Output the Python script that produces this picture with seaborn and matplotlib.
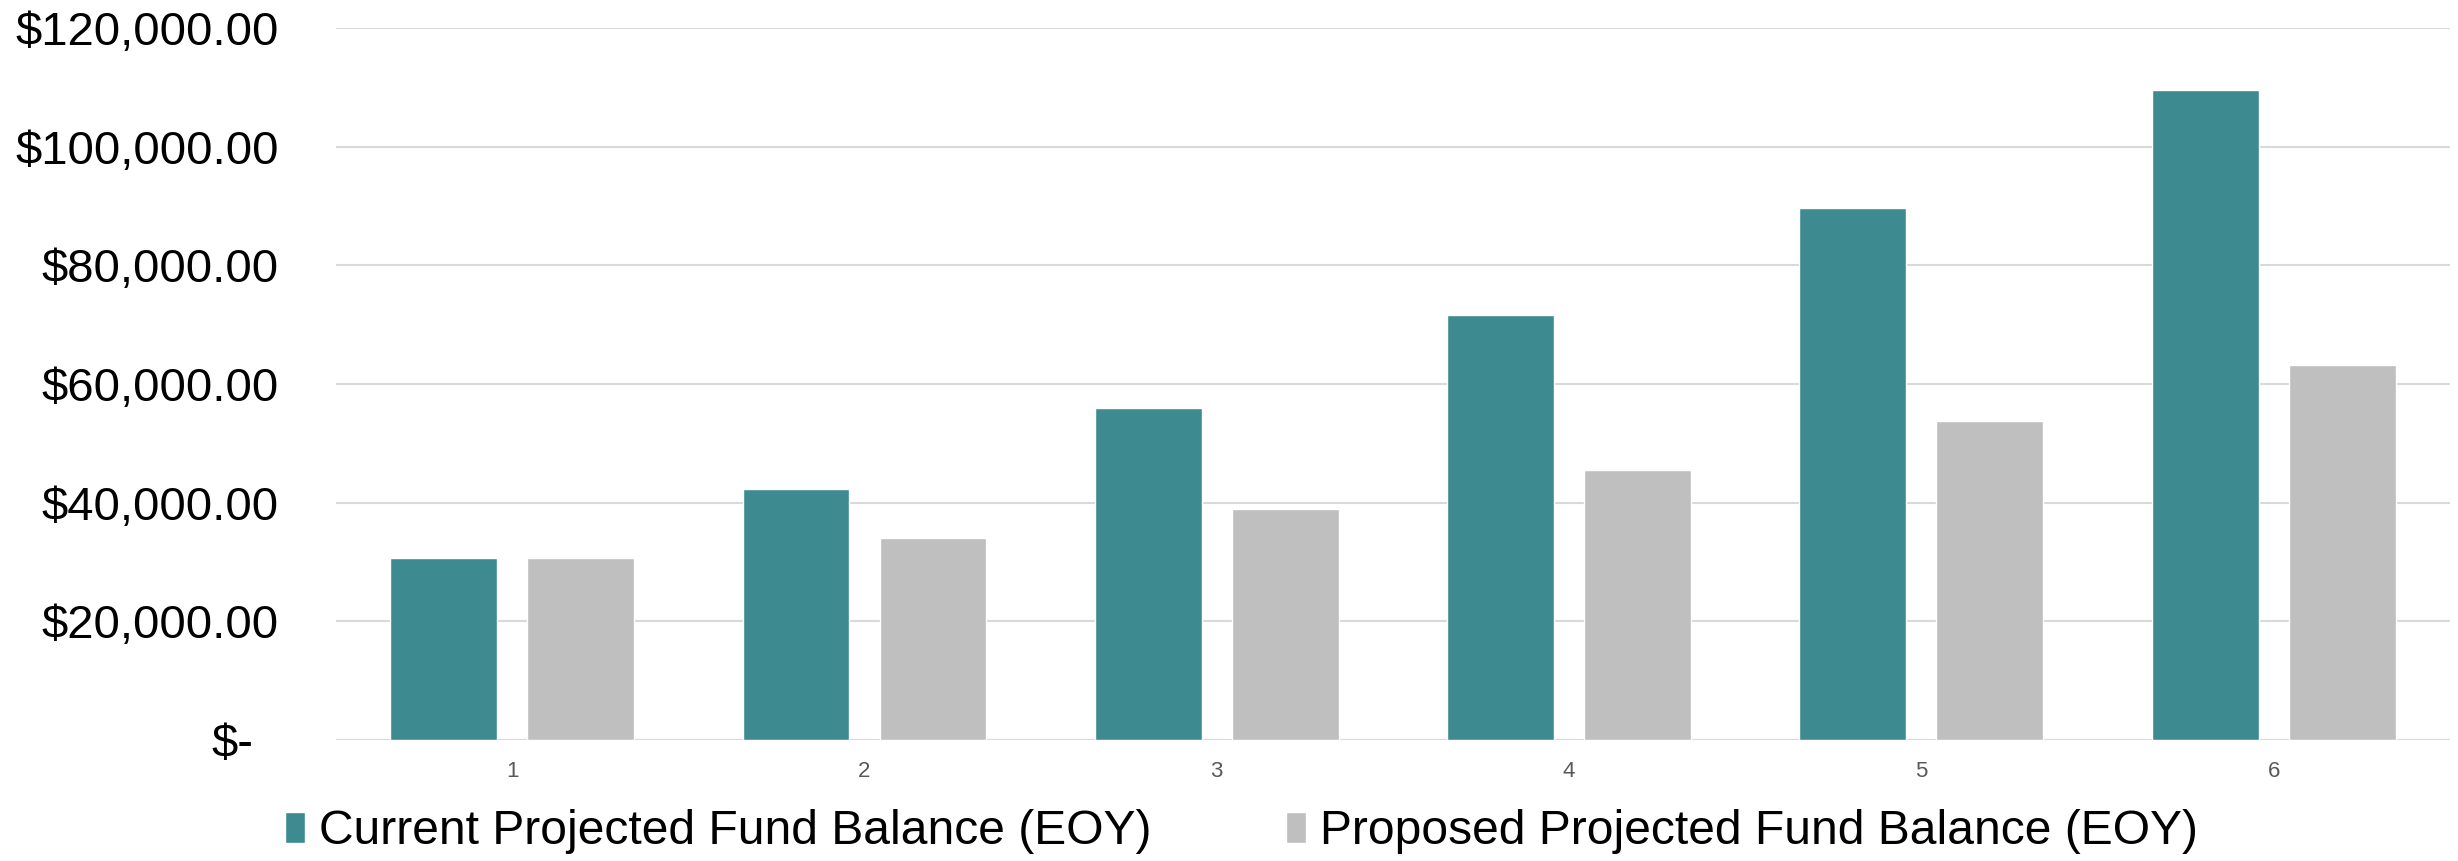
import matplotlib
matplotlib.use("Agg")
import matplotlib.pyplot as plt
import matplotlib.transforms as mtransforms
from matplotlib.ticker import FuncFormatter
import pandas as pd
import seaborn as sns

# Year-end fund balance projections
years = ["1", "2", "3", "4", "5", "6"]
current_balance = [30700, 42300, 55900, 71700, 89600, 109500]
proposed_balance = [30700, 34000, 38900, 45500, 53800, 63200]
series_names = ["Current Projected Fund Balance (EOY)",
                "Proposed Projected Fund Balance (EOY)"]
y_ticks = [0, 20000, 40000, 60000, 80000, 100000, 120000]

TEAL = "#3D8B91"
GRAY = "#BFBFBF"
GRID = "#D9D9D9"

df = pd.DataFrame({
    "year": years * 2,
    "balance": current_balance + proposed_balance,
    "series": [series_names[0]] * len(years) + [series_names[1]] * len(years),
})

sns.set_theme(style="white")
plt.rcParams["font.family"] = ["Liberation Sans", "DejaVu Sans"]
plt.rcParams["text.color"] = "black"

fig = plt.figure(figsize=(24.58, 8.61), dpi=100)
ax = fig.add_axes([0.1367, 0.1405, 0.8600, 0.8270])

sns.barplot(data=df, x="year", y="balance", hue="series",
            palette=[TEAL, GRAY], saturation=1, width=0.778, gap=0.22,
            errorbar=None, ax=ax, legend=True, zorder=3)

ax.set_ylim(0, 120000)
ax.set_yticks(y_ticks)


def money(v, _pos):
    if v == 0:
        return "$-"
    return f"${v:,.2f}"


ax.yaxis.set_major_formatter(FuncFormatter(money))
ax.grid(axis="y", color=GRID, linewidth=1.5, zorder=0)
ax.set_axisbelow(True)
for side in ["top", "right", "left", "bottom"]:
    ax.spines[side].set_visible(False)
ax.axhline(0, color=GRID, linewidth=1.5, zorder=1)

ax.tick_params(axis="y", length=0, pad=41, labelsize=34, labelcolor="black")
ax.tick_params(axis="x", length=0, pad=15, labelsize=16, labelcolor="#595959")
ax.set_xlabel("")
ax.set_ylabel("")

# The zero label sits a little left of the other amounts
fig.canvas.draw()
for lab in ax.get_yticklabels():
    if lab.get_text() == "$-":
        lab.set_transform(lab.get_transform() +
                          mtransforms.ScaledTranslation(-26 / 100, 0, fig.dpi_scale_trans))

handles, labels = ax.get_legend_handles_labels()
ax.get_legend().remove()
leg = fig.legend(handles, labels, loc="center", bbox_to_anchor=(0.505, 0.034),
                 ncol=2, frameon=False, fontsize=34.6, handlelength=0.43,
                 handleheight=0.62, handletextpad=0.28, columnspacing=2.8,
                 borderpad=0, borderaxespad=0)
for t in leg.get_texts():
    t.set_color("black")

fig.savefig("out.png", dpi=100)
